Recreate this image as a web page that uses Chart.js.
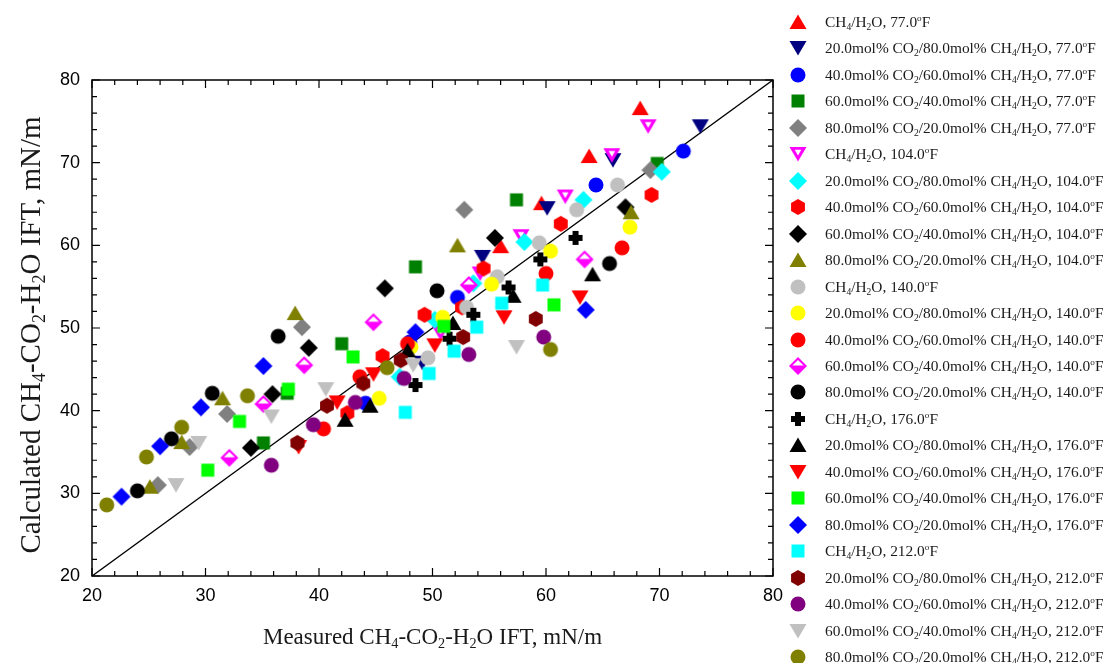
<!DOCTYPE html>
<html>
<head>
<meta charset="utf-8">
<script src="https://cdn.jsdelivr.net/npm/chart.js@4.4.1/dist/chart.umd.min.js"></script>
<style>
  body { margin: 0; width: 1104px; height: 663px; overflow: hidden; background: #fff; position: relative; }
  #chart { position: absolute; left: 0; top: 0; }
  .serif { font-family: "Liberation Serif", "Times New Roman", serif; color: #1a1a1a; white-space: nowrap; }
  .serif sub { font-size: 0.62em; vertical-align: -0.28em; line-height: 0; }
  .serif sup { font-size: 0.6em; vertical-align: 0.6em; line-height: 0; }
  #xtitle { position: absolute; left: 0; width: 865px; top: 622px; text-align: center; font-size: 23px; line-height: 30px; }
  #ytitle { position: absolute; left: -220px; width: 500px; top: 320px; height: 30px; line-height: 30px; text-align: center; font-size: 29px; transform: rotate(-90deg); }
  .lg-mark { position: absolute; width: 20px; height: 20px; }
  .lg-text { position: absolute; left: 825px; height: 22px; line-height: 22px; font-size: 15.4px; }
</style>
</head>
<body>
<canvas id="chart" width="1104" height="663"></canvas>
<div id="ytitle" class="serif">Calculated CH<sub>4</sub>-CO<sub>2</sub>-H<sub>2</sub>O IFT, mN/m</div>
<div id="xtitle" class="serif">Measured CH<sub>4</sub>-CO<sub>2</sub>-H<sub>2</sub>O IFT, mN/m</div>
<div id="legend"></div>
<script>
// measured vs calculated IFT, mN/m  ->  [measured, calculated]
const ch4_77     = [[68.3,76.6],[63.8,70.8],[59.6,65.1],[56.0,59.9]];
const co2_20_77  = [[73.6,74.4],[65.9,70.3],[60.1,64.5],[54.4,58.6],[49.1,45.8]];
const co2_40_77  = [[72.1,71.4],[64.4,67.3],[52.2,53.7],[48.0,48.3],[44.1,40.9]];
const co2_60_77  = [[69.8,69.9],[57.4,65.5],[48.5,57.4],[42.0,48.1],[37.2,42.1],[35.1,36.1]];
const co2_80_77  = [[69.2,69.1],[52.8,64.3],[38.5,50.1],[31.9,39.6],[28.6,35.6],[25.8,31.0]];
const ch4_104    = [[69.0,74.4],[65.8,70.9],[61.7,65.9],[57.8,61.1],[54.2,56.6],[50.7,49.4]];
const co2_20_104 = [[70.2,68.9],[63.3,65.5],[58.1,60.4],[53.6,55.4],[50.2,51.0],[47.1,44.1]];
const co2_40_104 = [[69.3,66.1],[61.3,62.6],[54.5,57.2],[52.6,52.5],[49.3,51.6],[45.6,46.6],[42.5,39.7]];
const co2_60_104 = [[67.0,64.6],[55.5,60.9],[45.8,54.8],[39.1,47.6],[35.9,42.0],[34.0,35.5]];
const co2_80_104 = [[67.5,64.0],[52.2,60.0],[37.9,51.8],[31.5,41.5],[27.9,36.2],[25.1,30.8]];
const ch4_140    = [[66.3,67.3],[62.7,64.3],[59.4,60.3],[55.7,56.2],[53.0,52.5],[49.6,46.4]];
const co2_20_140 = [[67.4,62.2],[60.4,59.3],[55.2,55.3],[50.9,51.3],[48.1,47.7],[45.3,41.5]];
const co2_40_140 = [[66.7,59.7],[60.0,56.6],[47.8,48.1],[43.6,44.1],[40.4,37.8]];
const co2_60_140 = [[63.4,58.3],[53.2,55.2],[44.8,50.7],[38.7,45.5],[35.1,40.8],[32.1,34.3]];
const co2_80_140 = [[65.6,57.8],[50.4,54.5],[36.4,49.0],[30.6,42.1],[27.0,36.6],[24.0,30.3]];
const ch4_176    = [[62.6,60.9],[59.5,58.3],[56.7,54.9],[53.6,51.6],[51.5,48.7],[48.5,43.1]];
const co2_20_176 = [[64.1,56.5],[57.1,53.9],[51.8,50.6],[47.8,47.3],[44.5,40.6],[42.3,38.9]];
const co2_40_176 = [[63.0,53.7],[56.3,51.3],[50.2,47.9],[44.8,44.4],[41.6,41.0],[38.2,35.6]];
const co2_60_176 = [[60.7,52.8],[51.0,50.2],[43.0,46.5],[37.3,42.6],[33.0,38.7],[30.2,32.8]];
const co2_80_176 = [[63.5,52.2],[48.5,49.5],[35.1,45.4],[29.6,40.4],[26.0,35.7],[22.6,29.6]];
const ch4_212    = [[59.7,55.2],[56.1,53.0],[53.9,50.1],[51.9,47.2],[49.7,44.5],[47.6,39.8]];
const co2_20_212 = [[59.1,51.1],[52.7,48.9],[47.2,46.1],[43.9,43.3],[40.7,40.6],[38.1,36.1]];
const co2_40_212 = [[59.8,48.9],[53.2,46.8],[47.5,43.9],[43.2,41.0],[39.5,38.3],[35.8,33.4]];
const co2_60_212 = [[57.4,47.7],[48.3,45.5],[40.6,42.6],[35.8,39.3],[29.4,36.1],[27.4,31.0]];
const co2_80_212 = [[60.4,47.4],[46.0,45.2],[33.7,41.8],[27.9,38.0],[24.8,34.4],[21.3,28.6]];

const temps = ['77.0', '104.0', '140.0', '176.0', '212.0'];
const mixes = [
  'CH4/H2O',
  '20.0mol% CO2/80.0mol% CH4/H2O',
  '40.0mol% CO2/60.0mol% CH4/H2O',
  '60.0mol% CO2/40.0mol% CH4/H2O',
  '80.0mol% CO2/20.0mol% CH4/H2O'
];
const axisTicks = [20, 30, 40, 50, 60, 70, 80];

const points = [
  ch4_77, co2_20_77, co2_40_77, co2_60_77, co2_80_77,
  ch4_104, co2_20_104, co2_40_104, co2_60_104, co2_80_104,
  ch4_140, co2_20_140, co2_40_140, co2_60_140, co2_80_140,
  ch4_176, co2_20_176, co2_40_176, co2_60_176, co2_80_176,
  ch4_212, co2_20_212, co2_40_212, co2_60_212, co2_80_212
];

// marker shape + colour per series
const shapes = [
  ['triangle', '#ff0000'], ['triangleDown', '#000080'], ['circle', '#0000ff'], ['square', '#008000'], ['diamond', '#808080'],
  ['openTriangleDown', '#ff00ff'], ['diamond', '#00ffff'], ['hexagon', '#ff0000'], ['diamond', '#000000'], ['triangle', '#808000'],
  ['circle', '#c0c0c0'], ['circle', '#ffff00'], ['circle', '#ff0000'], ['halfDiamond', '#ff00ff'], ['circle', '#000000'],
  ['plus', '#000000'], ['triangle', '#000000'], ['triangleDown', '#ff0000'], ['square', '#00ff00'], ['diamond', '#0000ff'],
  ['square', '#00ffff'], ['hexagon', '#800000'], ['circle', '#800080'], ['triangleDown', '#c0c0c0'], ['circle', '#808000']
];

function poly(g, pts) {
  g.beginPath();
  g.moveTo(pts[0][0], pts[0][1]);
  for (let i = 1; i < pts.length; i++) g.lineTo(pts[i][0], pts[i][1]);
  g.closePath();
  g.fill();
}

function marker(shape, color) {
  const c = document.createElement('canvas');
  c.width = 20; c.height = 20;
  const g = c.getContext('2d');
  g.translate(10, 10);
  g.fillStyle = color;
  switch (shape) {
    case 'circle':
      g.beginPath(); g.arc(0, 0, 7.5, 0, Math.PI * 2); g.fill(); break;
    case 'square':
      g.fillRect(-6.5, -6.5, 13, 13); break;
    case 'triangle':
      poly(g, [[0, -7.5], [8.5, 7], [-8.5, 7]]); break;
    case 'triangleDown':
      poly(g, [[0, 7.5], [8.5, -7], [-8.5, -7]]); break;
    case 'openTriangleDown':
      poly(g, [[0, 7.5], [8.5, -7], [-8.5, -7]]);
      g.fillStyle = '#fff';
      poly(g, [[0, 1.5], [3.3, -4.2], [-3.3, -4.2]]);
      break;
    case 'diamond':
      poly(g, [[0, -9], [9, 0], [0, 9], [-9, 0]]); break;
    case 'halfDiamond':
      poly(g, [[0, -9], [9, 0], [0, 9], [-9, 0]]);
      g.fillStyle = '#fff';
      poly(g, [[0, -6], [5.6, -0.4], [-5.6, -0.4]]);
      break;
    case 'hexagon': {
      const p = [];
      for (let k = 0; k < 6; k++) {
        const a = (-90 + 60 * k) * Math.PI / 180;
        p.push([8 * Math.cos(a), 8 * Math.sin(a)]);
      }
      poly(g, p);
      break;
    }
    case 'plus':
      poly(g, [[-3, -7], [3, -7], [3, -3], [7, -3], [7, 3], [3, 3], [3, 7], [-3, 7], [-3, 3], [-7, 3], [-7, -3], [-3, -3]]);
      break;
  }
  return c;
}

const labels = temps.flatMap(t => mixes.map(m => `${m}, ${t}°F`));
const markers = shapes.map(([s, c]) => marker(s, c));

const datasets = points.map((pts, i) => ({
  label: labels[i],
  data: pts.map(([x, y]) => ({x, y})),
  pointStyle: markers[i],
  pointRadius: 7,
  order: points.length - i
}));

datasets.push({
  label: 'parity',
  data: [{x: 20, y: 20}, {x: 80, y: 80}],
  showLine: true,
  borderColor: '#000',
  borderWidth: 1.4,
  pointRadius: 0,
  order: 100
});

// closed frame with inward ticks on all four sides
const frame = {
  id: 'frame',
  afterDraw(chart) {
    const {ctx, chartArea: a, scales: {x, y}} = chart;
    ctx.save();
    ctx.strokeStyle = '#000';
    ctx.lineWidth = 1.5;
    ctx.strokeRect(a.left, a.top, a.right - a.left, a.bottom - a.top);
    ctx.lineWidth = 1.2;
    ctx.beginPath();
    for (let v = 20; v <= 80; v += 2) {
      const len = v % 10 === 0 ? 8 : 5;
      const px = x.getPixelForValue(v), py = y.getPixelForValue(v);
      ctx.moveTo(px, a.bottom); ctx.lineTo(px, a.bottom - len);
      ctx.moveTo(px, a.top); ctx.lineTo(px, a.top + len);
      ctx.moveTo(a.left, py); ctx.lineTo(a.left + len, py);
      ctx.moveTo(a.right, py); ctx.lineTo(a.right - len, py);
    }
    ctx.stroke();
    ctx.restore();
  }
};

const tickFont = {family: '"Liberation Sans", Arial, sans-serif', size: 18};

new Chart(document.getElementById('chart'), {
  type: 'scatter',
  data: {datasets},
  options: {
    responsive: false,
    animation: false,
    devicePixelRatio: 1,
    layout: {padding: {left: 0, top: 80, right: 331, bottom: 0}},
    plugins: {legend: {display: false}, tooltip: {enabled: false}},
    scales: {
      x: {
        type: 'linear', min: 20, max: 80,
        afterBuildTicks: s => { s.ticks = axisTicks.map(v => ({value: v})); },
        ticks: {font: tickFont, color: '#000', padding: 9, maxRotation: 0},
        grid: {display: false, drawTicks: false},
        border: {display: false},
        afterFit: s => { s.height = 87; }
      },
      y: {
        type: 'linear', min: 20, max: 80,
        afterBuildTicks: s => { s.ticks = axisTicks.map(v => ({value: v})); },
        ticks: {font: tickFont, color: '#000', padding: 12},
        grid: {display: false, drawTicks: false},
        border: {display: false},
        afterFit: s => { s.width = 92; }
      }
    }
  },
  plugins: [frame]
});

// legend with sub/superscripts
const legend = document.getElementById('legend');
labels.forEach((lab, i) => {
  const cy = 22 + i * 26.46;
  const img = document.createElement('img');
  img.className = 'lg-mark';
  img.src = markers[i].toDataURL();
  img.style.left = '788px';
  img.style.top = (cy - 10) + 'px';
  legend.appendChild(img);

  const [mix, temp] = lab.split(', ');
  const span = document.createElement('div');
  span.className = 'lg-text serif';
  span.style.top = (cy - 11) + 'px';
  span.innerHTML = mix.replace(/([A-Z])(\d)/g, '$1<sub>$2</sub>') + ', ' + temp.replace('°F', '<sup>o</sup>F');
  legend.appendChild(span);
});
</script>
</body>
</html>
